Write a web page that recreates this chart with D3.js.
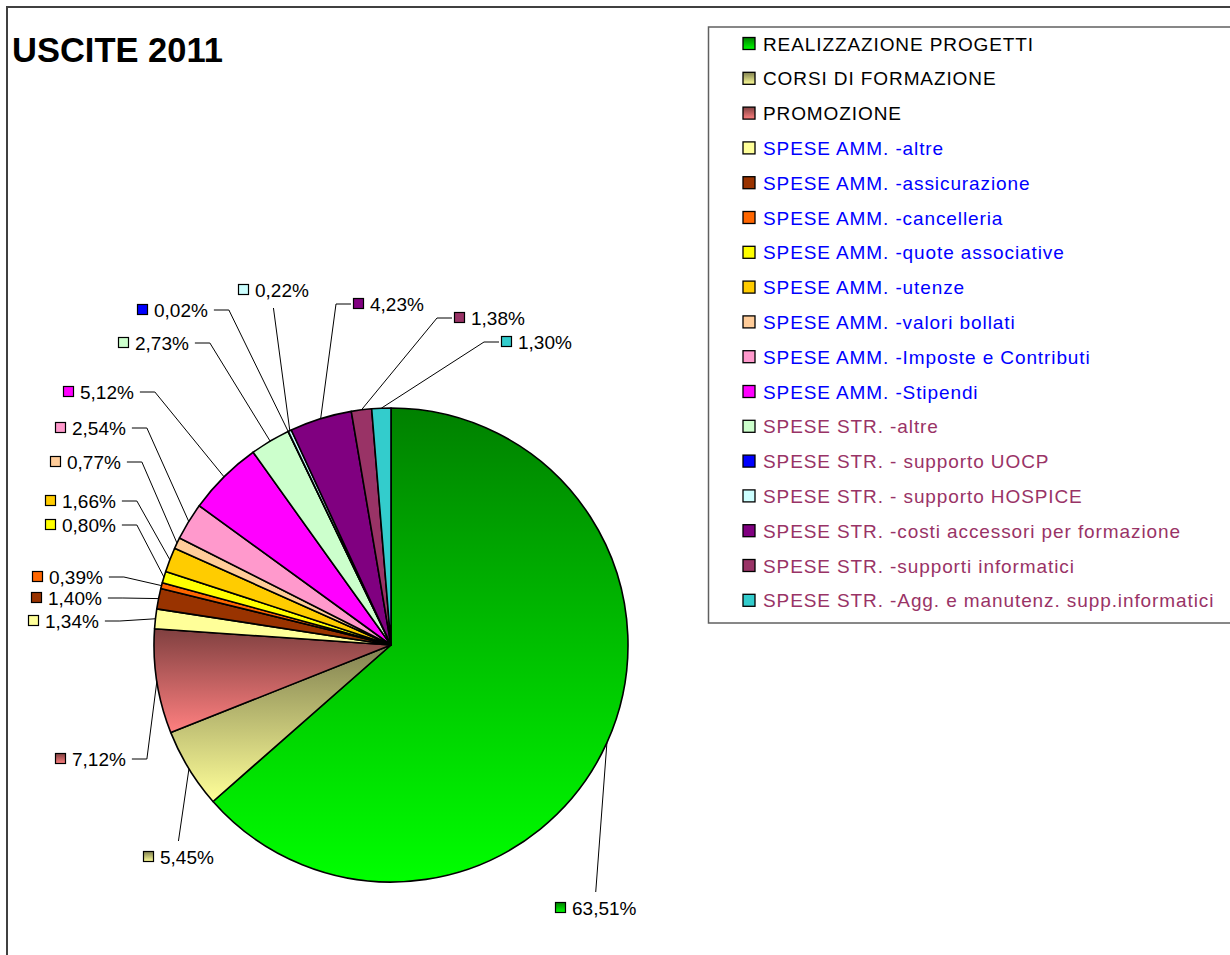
<!DOCTYPE html>
<html><head><meta charset="utf-8">
<script src="https://cdn.jsdelivr.net/npm/d3@7"></script>
<style>
body{margin:0;background:#fff;}
svg{display:block;font-family:Arial,"Liberation Sans",sans-serif;}
</style></head>
<body>
<svg id="c" width="1230" height="955"></svg>
<script>
const title = "USCITE 2011";
const categories = [
  "REALIZZAZIONE PROGETTI","CORSI DI FORMAZIONE","PROMOZIONE",
  "SPESE AMM. -altre","SPESE AMM. -assicurazione","SPESE AMM. -cancelleria",
  "SPESE AMM. -quote associative","SPESE AMM. -utenze","SPESE AMM. -valori bollati",
  "SPESE AMM. -Imposte e Contributi","SPESE AMM. -Stipendi",
  "SPESE STR. -altre","SPESE STR. - supporto UOCP","SPESE STR. - supporto HOSPICE",
  "SPESE STR. -costi accessori per formazione","SPESE STR. -supporti informatici",
  "SPESE STR. -Agg. e manutenz. supp.informatici"
];
const values = [63.51,5.45,7.12,1.34,1.40,0.39,0.80,1.66,0.77,2.54,5.12,2.73,0.02,0.22,4.23,1.38,1.30];
const group = ["base","base","base","amm","amm","amm","amm","amm","amm","amm","amm","str","str","str","str","str","str"];

// styles
const fills = [
  ["#008000","#00ff00"],["#808050","#ffff99"],["#804040","#ff8080"],
  "#ffff99","#993300","#ff6600","#ffff00","#ffcc00","#ffcc99","#ff99cc","#ff00ff",
  "#ccffcc","#0000ff","#ccffff","#800080","#993366","#33cccc"
];
const groupColor = {base:"#000000", amm:"#0000ff", str:"#993366"};
// label layout: [x of key square, y centre, leader side]
const labelLayout = [
  [555,908,"b"],[143,857,"b"],[55,759,"r"],[28,621,"r"],[31,598,"r"],[32,577,"r"],
  [45,525,"r"],[45,501,"r"],[50,462,"r"],[55,428,"r"],[63,392,"r"],[118,343,"r"],
  [137,310,"r"],[238,290,"t"],[353,304,"l"],[454,318,"l"],[501,342,"l"]
];

const svg = d3.select("#c");
const defs = svg.append("defs");
fills.forEach((f,i)=>{
  if(Array.isArray(f)){
    const g = defs.append("linearGradient").attr("id","g"+i)
      .attr("x1",0).attr("y1",0).attr("x2",0).attr("y2",1);
    g.append("stop").attr("offset","0%").attr("stop-color",f[0]);
    g.append("stop").attr("offset","100%").attr("stop-color",f[1]);
  }
});
const fillOf = i => Array.isArray(fills[i]) ? `url(#g${i})` : fills[i];

// outer frame
svg.append("rect").attr("x",7).attr("y",7).attr("width",1240).attr("height",960)
  .attr("fill","none").attr("stroke","#404040").attr("stroke-width",2);

svg.append("text").attr("x",12).attr("y",62).attr("font-size",34.5).attr("font-weight","bold")
  .attr("fill","#000").text(title);

const cx = 391, cy = 645, R = 237;
const pie = d3.pie().sort(null).value(d=>d)(values);
const arc = d3.arc().innerRadius(0).outerRadius(R);
const gp = svg.append("g").attr("transform",`translate(${cx},${cy})`);
gp.selectAll("path").data(pie).join("path")
  .attr("d",arc).attr("fill",(d,i)=>fillOf(i))
  .attr("stroke","#000").attr("stroke-width",1.6).attr("stroke-linejoin","round");

// labels
const fmt = v => v.toFixed(2).replace(".",",") + "%";
const lg = svg.append("g");
pie.forEach((d,i)=>{
  const [lx,ly,side] = labelLayout[i];
  const a = (d.startAngle+d.endAngle)/2;
  const ex = cx + R*Math.sin(a), ey = cy - R*Math.cos(a);
  lg.append("rect").attr("x",lx+0.5).attr("y",ly-5.5).attr("width",10).attr("height",10)
    .attr("fill",fillOf(i)).attr("stroke","#000").attr("stroke-width",1.2);
  const t = lg.append("text").attr("x",lx+17).attr("y",ly+7).attr("font-size",19)
    .attr("fill","#000").text(fmt(values[i]));
  const tw = t.node().getComputedTextLength();
  let pts;
  if(side==="r"){
    const sx = lx+17+tw+6;
    pts = [[sx,ly],[sx+15,ly],[ex,ey]];
  } else if(side==="l"){
    pts = [[lx-2,ly],[lx-17,ly],[ex,ey]];
  } else if(side==="t"){
    const mx = lx + (17+tw)/2;
    pts = [[mx,ly+18],[ex,ey]];
  } else {
    const mx = lx + (17+tw)/2;
    pts = [[mx,ly-16],[ex,ey]];
  }
  lg.append("path").attr("d",d3.line()(pts)).attr("fill","none")
    .attr("stroke","#000").attr("stroke-width",1);
});

// legend
const L = svg.append("g");
L.append("rect").attr("x",708.5).attr("y",27).attr("width",530).attr("height",596)
  .attr("fill","#fff").attr("stroke","#606060").attr("stroke-width",1.5);
const ly0 = 43.5, step = 34.8;
categories.forEach((c,i)=>{
  const y = ly0 + i*step;
  L.append("rect").attr("x",743).attr("y",y-6).attr("width",12).attr("height",12)
    .attr("fill",fillOf(i)).attr("stroke","#000").attr("stroke-width",1.3);
  L.append("text").attr("x",763).attr("y",y+7).attr("font-size",19)
    .attr("letter-spacing",0.9)
    .attr("fill",groupColor[group[i]]).text(c);
});
</script>
</body></html>
